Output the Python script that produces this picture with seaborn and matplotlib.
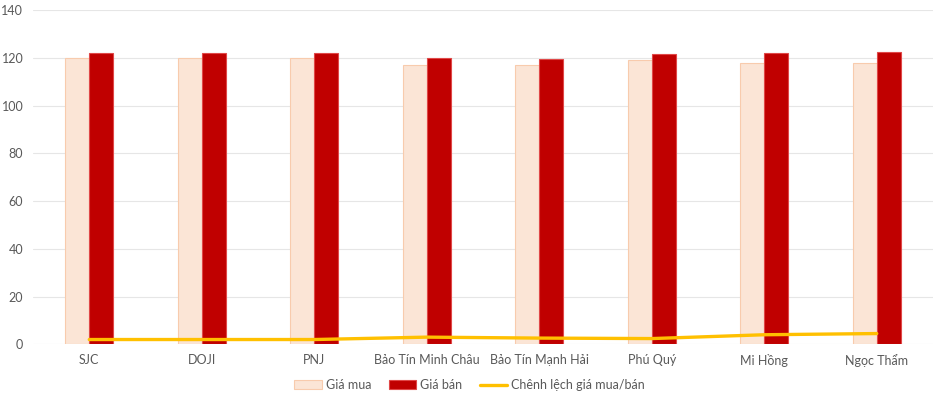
import numpy as np
import pandas as pd
import matplotlib
matplotlib.use("Agg")
import matplotlib.pyplot as plt
import seaborn as sns
from matplotlib.patches import Patch
from matplotlib.lines import Line2D

categories = ["SJC", "DOJI", "PNJ", "Bảo Tín Minh Châu", "Bảo Tín Mạnh Hải",
              "Phú Quý", "Mi Hồng", "Ngọc Thẩm"]
gia_mua = [120, 120, 120, 117, 117, 119, 118, 118]
gia_ban = [122, 122, 122, 120, 119.6, 121.4, 122, 122.5]
chenh_lech = [2, 2, 2, 3, 2.6, 2.4, 4, 4.5]
series_names = ["Giá mua", "Giá bán", "Chênh lệch giá mua/bán"]
y_ticks = [0, 20, 40, 60, 80, 100, 120, 140]

sns.set_theme(style="white")
plt.rcParams["font.family"] = ["Lato", "DejaVu Sans"]

df = pd.DataFrame({
    "cat": categories * 2,
    "val": gia_mua + gia_ban,
    "series": [series_names[0]] * len(categories) + [series_names[1]] * len(categories),
})

fig = plt.figure(figsize=(9.39, 4.0), dpi=100)
ax = fig.add_axes([33 / 939, 55.7 / 400, 900 / 939, (344.3 - 10) / 400])

buy_c, buy_e = "#FBE5D6", "#F8CBAD"
sell_c, sell_e = "#C00000", "#E04848"
line_c = "#FFC000"

sns.barplot(data=df, x="cat", y="val", hue="series", order=categories,
            palette=[buy_c, sell_c], width=0.43, ax=ax, legend=False,
            saturation=1, gap=0)
for i, p in enumerate(ax.patches):
    if i < len(categories):
        p.set_edgecolor(buy_e)
    else:
        p.set_edgecolor(sell_e)
    p.set_linewidth(0.8)

sns.lineplot(x=np.arange(len(categories)), y=chenh_lech, color=line_c,
             linewidth=2.4, ax=ax, zorder=5)

ax.set_ylim(0, 140)
ax.set_xlim(-0.5, len(categories) - 0.5)
ax.set_yticks(y_ticks)
ax.set_xticks(range(len(categories)))
ax.set_xticklabels(categories)
ax.set_xlabel("")
ax.set_ylabel("")
ax.yaxis.grid(True, color="#E6E6E6", linewidth=0.8)
ax.set_axisbelow(True)
for s in ax.spines.values():
    s.set_visible(False)
ax.tick_params(axis="both", length=0, colors="#595959", labelsize=9)
ax.tick_params(axis="x", pad=7)
ax.tick_params(axis="y", pad=7)

handles = [
    Patch(facecolor=buy_c, edgecolor=buy_e, linewidth=0.8),
    Patch(facecolor=sell_c, edgecolor=sell_e, linewidth=0.8),
    Line2D([0], [0], color=line_c, linewidth=2.4),
]
fig.legend(handles, series_names, loc="center", bbox_to_anchor=(0.5, 15 / 400),
           ncol=3, frameon=False, fontsize=9, labelcolor="#595959",
           handlelength=2.2, handletextpad=0.3, columnspacing=1.4)

fig.savefig("out.png", dpi=100)
